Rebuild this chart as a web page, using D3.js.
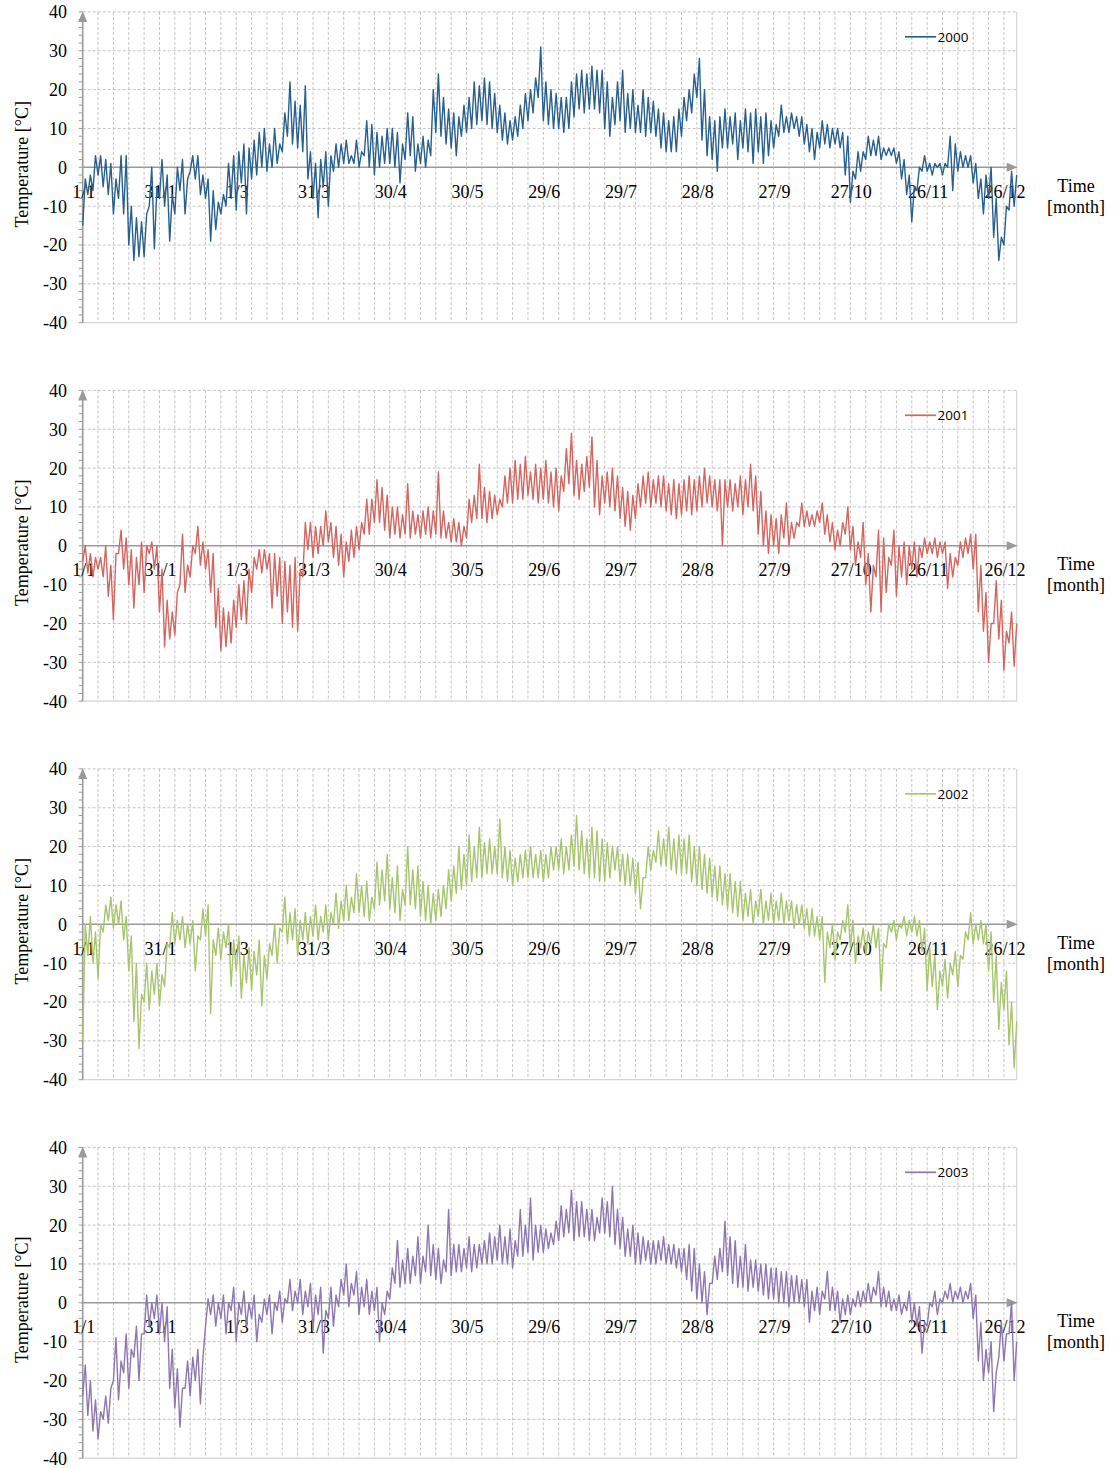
<!DOCTYPE html>
<html>
<head>
<meta charset="utf-8">
<script src="https://cdnjs.cloudflare.com/ajax/libs/d3/7.8.5/d3.min.js"></script>
<style>
  body { margin: 0; background: #fff; }
</style>
</head>
<body>
<div id="chart"></div>
<script>
// values: for every 2-day window (day 0-2, 2-4, ... 364-365)
// the low and the high of the temperature trace
const years = ['2000', '2001', '2002', '2003'];
const lineColors = ['#27608f', '#d4655f', '#a8c56d', '#8e76b1'];
const tickDays = [0, 30, 60, 90, 120, 150, 180, 210, 240, 270, 300, 330, 360];
const tickLabels = ['1/1', '31/1', '1/3', '31/3', '30/4', '30/5', '29/6', '29/7', '28/8', '27/9', '27/10', '26/11', '26/12'];
const yTicks = [40, 30, 20, 10, 0, -10, -20, -30, -40];

const hi2000 = [
  -3, -2, 3, 3, 2, 1, -3, 3, 3, -10, -13, -14, -12, 0, -5, 2,
  -2, -7, 0, 2, -3, 3, 3, -2, -3, -6, -9, -7, 1, 3, 4, 6,
  5, 7, 9, 10, 6, 10, 6, 14, 22, 17, 16, 21, 4, 1, 2, 4,
  3, 6, 6, 7, 3, 7, 4, 12, 11, 9, 8, 10, 10, 9, 6, 14,
  13, 6, 8, 7, 20, 24, 18, 15, 14, 13, 16, 18, 22, 21, 23, 22,
  19, 16, 14, 12, 13, 16, 19, 20, 23, 31, 22, 20, 19, 18, 18, 22,
  24, 25, 24, 26, 25, 25, 22, 18, 22, 25, 19, 20, 16, 20, 18, 17,
  15, 14, 12, 13, 15, 18, 20, 24, 28, 20, 13, 12, 13, 15, 13, 14,
  12, 15, 14, 15, 13, 14, 12, 11, 16, 13, 14, 13, 13, 11, 10, 9,
  12, 11, 10, 10, 9, 8, -1, 4, 4, 8, 7, 8, 5, 5, 5, 4,
  2, -2, -5, 0, 3, 1, 1, 1, 1, 8, 6, 4, 3, 3, 1, -3,
  -2, 0, -8, -18, -10, -1, -2
];
const lo2000 = [
  -15, -7, -6, -2, -5, -7, -12, -8, -12, -20, -24, -23, -23, -10, -21, -8,
  -10, -19, -12, -6, -12, -1, -3, -7, -8, -19, -16, -12, -10, -8, -11, -4,
  -12, -3, -2, 0, -1, 0, 1, 4, 8, 6, 5, 4, -3, -8, -13, -5,
  -10, -1, 0, 1, 1, 1, 0, 3, 0, -2, 0, 1, 1, 0, -4, 2,
  3, -1, 1, 0, 3, 9, 8, 6, 5, 3, 8, 9, 10, 11, 12, 11,
  10, 9, 7, 6, 7, 8, 10, 12, 14, 18, 12, 11, 10, 10, 9, 10,
  13, 15, 14, 15, 15, 14, 10, 8, 11, 12, 9, 10, 9, 9, 8, 9,
  8, 5, 4, 4, 4, 8, 12, 14, 18, 7, 3, 2, -1, 5, 5, 6,
  2, 5, 4, 1, 4, 1, 3, 5, 8, 9, 9, 10, 8, 6, 4, 2,
  5, 6, 5, 6, 5, -2, -9, -3, -1, 2, 3, 3, 2, 3, 3, 1,
  -3, -7, -14, -6, -1, -1, -2, 0, -2, 0, -6, -1, 0, 0, -4, -8,
  -12, -8, -18, -24, -20, -11, -10
];

const hi2001 = [
  0, -2, -3, -3, 0, -5, -2, 4, 2, -1, -3, 1, 0, 1, 0, -6,
  -14, -17, -12, 3, -5, 0, 5, 1, -1, -2, -11, -16, -17, -14, -10, -9,
  -6, -3, -1, -1, -2, -2, -3, -4, -5, -3, -6, 6, 6, 5, 5, 9,
  6, 5, 3, 1, 4, 5, 6, 12, 12, 17, 15, 13, 10, 10, 8, 16,
  9, 8, 9, 10, 9, 19, 9, 6, 7, 6, 5, 12, 13, 21, 15, 14,
  13, 12, 18, 20, 22, 21, 23, 19, 21, 20, 22, 19, 20, 18, 25, 29,
  22, 21, 23, 28, 22, 18, 19, 20, 18, 15, 14, 13, 16, 18, 19, 17,
  18, 18, 16, 17, 16, 17, 18, 17, 18, 20, 18, 17, 17, 17, 17, 16,
  18, 17, 21, 18, 14, 9, 8, 7, 8, 11, 6, 6, 11, 9, 8, 9,
  11, 8, 6, 4, 6, 10, 5, 1, 6, -2, -5, 4, 2, -3, 4, 0,
  1, 0, 1, 0, 2, 1, 2, 1, 1, -2, -3, 1, 2, 3, 3, -5,
  -12, -20, -9, -14, -22, -17, -20
];
const lo2001 = [
  -4, -7, -8, -6, -8, -13, -19, -2, -6, -10, -16, -10, -12, -2, -6, -17,
  -26, -24, -23, -10, -12, -8, -2, -5, -6, -12, -21, -27, -26, -25, -21, -19,
  -20, -12, -6, -7, -6, -16, -13, -20, -17, -21, -22, -8, -1, -3, -2, 0,
  1, -3, -5, -8, -4, -3, -1, 3, 3, 6, 6, 4, 2, 3, 2, 3,
  2, 3, 2, 3, 2, 3, 2, 2, 1, 1, 0, 2, 6, 7, 7, 6,
  7, 8, 10, 11, 11, 12, 12, 13, 12, 11, 12, 11, 10, 9, 14, 16,
  13, 12, 14, 15, 10, 8, 11, 10, 9, 7, 5, 4, 7, 10, 11, 10,
  11, 10, 9, 8, 7, 8, 9, 8, 9, 10, 11, 10, 9, 0, 10, 9,
  10, 8, 10, 9, 3, 0, -2, 0, -2, 2, 0, 2, 5, 5, 5, 5,
  6, 3, 1, -1, 0, 3, -1, -5, -3, -10, -17, -8, -17, -12, -5, -13,
  -8, -10, -6, -8, -3, -2, -2, -3, -2, -11, -8, -5, -3, -2, -6, -17,
  -22, -30, -20, -24, -32, -25, -31
];

const hi2002 = [
  0, 2, -2, 0, 5, 7, 5, 6, 2, -3, -10, -18, -10, -12, -10, -13,
  -5, 3, 1, 2, 0, 1, -3, 4, 5, -4, -1, -2, 0, -4, -3, -8,
  -6, -7, -4, -8, -5, 0, -1, 7, 3, 4, 1, 3, 2, 5, 2, 5,
  3, 8, 6, 10, 7, 13, 10, 11, 7, 16, 14, 18, 12, 15, 9, 20,
  14, 15, 11, 10, 8, 9, 10, 14, 15, 20, 18, 23, 20, 25, 21, 22,
  20, 27, 20, 19, 17, 18, 19, 20, 18, 19, 18, 20, 20, 22, 20, 23,
  28, 24, 22, 25, 24, 22, 21, 20, 20, 18, 18, 17, 16, 12, 20, 19,
  24, 22, 25, 22, 23, 22, 23, 20, 20, 18, 17, 15, 15, 13, 13, 11,
  11, 8, 9, 6, 9, 6, 8, 6, 8, 6, 6, 5, 5, 4, 4, 2,
  2, -2, 0, -2, 1, 5, 1, -3, -1, -2, 0, -1, -5, 0, 1, 0,
  2, 1, 2, 1, -1, -6, -8, -12, -9, -10, -7, -8, -2, 3, 0, 1,
  0, -2, -8, -15, -12, -20, -25
];
const lo2002 = [
  -30, -8, -10, -14, -2, 1, -1, 0, -4, -12, -25, -32, -20, -22, -18, -21,
  -16, -6, -5, -4, -6, -5, -12, -4, -3, -23, -8, -9, -6, -16, -12, -19,
  -15, -17, -13, -21, -14, -8, -10, -2, -5, -4, -8, -4, -5, -3, -4, -2,
  -4, 0, -1, 1, 1, 3, 3, 2, 1, 4, 5, 6, 4, 3, 1, 5,
  5, 4, 2, 1, 0, 1, 2, 4, 6, 8, 9, 10, 11, 12, 12, 13,
  13, 13, 12, 11, 10, 11, 12, 12, 12, 12, 11, 12, 14, 14, 13, 14,
  15, 14, 13, 12, 12, 11, 11, 12, 14, 11, 10, 10, 8, 4, 12, 14,
  16, 15, 15, 14, 13, 13, 13, 11, 10, 9, 8, 7, 6, 5, 4, 3,
  2, 1, 2, 0, 2, 0, 1, 0, 1, 0, 1, -1, 0, -1, -3, -3,
  -4, -15, -6, -9, -4, -2, -6, -10, -6, -8, -5, -6, -17, -6, -2, -4,
  -1, -3, -2, -3, -7, -17, -16, -22, -16, -19, -13, -16, -9, -4, -5, -4,
  -5, -12, -20, -27, -22, -31, -37
];

const hi2003 = [
  -16, -20, -25, -28, -24, -22, -9, -15, -8, -12, -6, -8, 2, 0, 2, 0,
  -1, -12, -17, -22, -15, -14, -12, -14, 1, 2, 0, 2, 0, 4, 0, 3,
  0, 2, -3, 1, 2, 0, 3, 1, 6, 3, 6, 3, 5, 2, 4, -2,
  4, 2, 6, 10, 5, 8, 4, 6, 3, 4, 0, 3, 9, 16, 11, 14,
  12, 17, 12, 20, 15, 14, 11, 24, 15, 15, 14, 17, 15, 15, 16, 18,
  17, 20, 17, 19, 16, 24, 20, 27, 20, 20, 19, 18, 21, 25, 24, 29,
  26, 26, 24, 24, 22, 27, 26, 30, 24, 22, 19, 20, 18, 17, 16, 16,
  16, 17, 15, 15, 14, 14, 15, 14, 10, 8, 5, 12, 14, 21, 17, 16,
  12, 15, 11, 11, 10, 10, 9, 9, 8, 8, 7, 7, 6, 6, 3, 4,
  3, 8, 4, 3, 1, 2, 1, 3, 3, 5, 4, 8, 4, 3, 1, 2,
  0, 3, 0, -1, -5, 0, 3, 1, 3, 5, 3, 4, 3, 5, 2, -5,
  -12, -10, -18, -5, -8, 0, -10
];
const lo2003 = [
  -24, -29, -33, -35, -30, -31, -20, -25, -18, -22, -14, -20, -8, -6, -4, -8,
  -10, -22, -27, -32, -22, -24, -20, -26, -6, -3, -6, -4, -8, -2, -10, -3,
  -6, -4, -10, -5, -3, -8, -2, -5, 0, -2, 0, -3, -1, -7, -3, -13,
  -4, -6, -1, 2, -1, 2, -3, -1, -3, -2, -10, -3, 1, 5, 4, 5,
  5, 7, 5, 8, 7, 6, 5, 8, 7, 8, 8, 9, 8, 9, 10, 10,
  10, 11, 10, 10, 9, 12, 12, 13, 11, 13, 13, 14, 15, 16, 17, 18,
  16, 17, 17, 16, 16, 18, 18, 17, 15, 14, 12, 12, 10, 10, 11, 10,
  10, 11, 10, 10, 9, 8, 6, 3, 1, 0, -3, 5, 6, 8, 7, 5,
  4, 4, 3, 4, 3, 2, 1, 1, 0, 0, -1, 0, 0, -1, -5, -2,
  -3, 1, -2, -2, -5, -3, -3, -1, -1, 0, 0, 2, -1, -1, -2, -2,
  -3, -2, -5, -6, -13, -6, -1, -3, 0, 1, 0, 1, 0, 1, -4, -15,
  -20, -18, -28, -14, -15, -8, -20
];

const lows = [lo2000, lo2001, lo2002, lo2003];
const highs = [hi2000, hi2001, hi2002, hi2003];
const windowDays = 2;

const width = 1118, height = 1468;
const panelGap = 378.5;
const gridColor = '#c4c4c4';
const axisColor = '#9a9a9a';
const serif = '"Liberation Serif", "Times New Roman", serif';

const svg = d3.select('#chart').append('svg')
    .attr('width', width)
    .attr('height', height)

const x = d3.scaleLinear().domain([0, 365]).range([82.7, 1016.7]);

// low then high inside each window, so the trace keeps its day-night wiggle
function tracePoints(lo, hi) {
  const pts = [];
  const n = Math.min(lo.length, hi.length);
  for (let k = 0; k < n; k++) {
    pts.push([k * windowDays, lo[k]]);
    pts.push([Math.min(k * windowDays + 1, 365), hi[k]]);
  }
  return pts;
}

years.forEach((yr, i) => {
  const zeroY = 167.3 + i * panelGap;
  const y = d3.scaleLinear().domain([-40, 40]).range([zeroY + 155.4, zeroY - 155.4]);
  const g = svg.append('g');

  // vertical dashed grid, one line every 6 days
  g.selectAll('.vgrid')
    .data(d3.range(6, 361, 6))
    .enter().append('line')
    .attr('x1', d => x(d)).attr('x2', d => x(d))
    .attr('y1', y(40)).attr('y2', y(-40))
    .attr('stroke', gridColor)
    .attr('stroke-dasharray', '3,2')

  // horizontal dashed grid
  g.selectAll('.hgrid')
    .data(yTicks.filter(d => d !== 0 && d !== -40))
    .enter().append('line')
    .attr('x1', x(0)).attr('x2', x(365))
    .attr('y1', d => y(d)).attr('y2', d => y(d))
    .attr('stroke', gridColor)
    .attr('stroke-dasharray', '3,2')

  // plot border (right + bottom)
  g.append('path')
    .attr('d', `M${x(0)},${y(-40)}H${x(365)}V${y(40)}`)
    .attr('fill', 'none')
    .attr('stroke', '#d4d4d4')
    .attr('stroke-width', 1.2)

  // minor ticks on the y axis, every 2 degrees
  g.selectAll('.ytick')
    .data(d3.range(-40, 41, 2))
    .enter().append('line')
    .attr('x1', x(0) - 4).attr('x2', x(0))
    .attr('y1', d => y(d)).attr('y2', d => y(d))
    .attr('stroke', axisColor)

  // zero axis with arrow
  g.append('line')
    .attr('x1', x(0)).attr('x2', x(365) - 6)
    .attr('y1', y(0)).attr('y2', y(0))
    .attr('stroke', axisColor)
    .attr('stroke-width', 1.6)
  g.append('path')
    .attr('d', `M${x(365) + 1},${y(0)}L${x(365) - 10},${y(0) - 4.5}L${x(365) - 10},${y(0) + 4.5}Z`)
    .attr('fill', axisColor)

  // y axis with arrow
  g.append('line')
    .attr('x1', x(0)).attr('x2', x(0))
    .attr('y1', y(-40)).attr('y2', y(40) + 6)
    .attr('stroke', axisColor)
    .attr('stroke-width', 1.6)
  g.append('path')
    .attr('d', `M${x(0)},${y(40) - 1}L${x(0) - 4.5},${y(40) + 10}L${x(0) + 4.5},${y(40) + 10}Z`)
    .attr('fill', axisColor)

  // y tick labels
  g.selectAll('.ylab')
    .data(yTicks)
    .enter().append('text')
    .attr('x', 67)
    .attr('y', d => y(d))
    .attr('dy', '0.36em')
    .attr('text-anchor', 'end')
    .attr('font-family', serif)
    .attr('font-size', 18)
    .text(d => d)

  // x tick labels (below the zero line)
  g.selectAll('.xlab')
    .data(tickDays)
    .enter().append('text')
    .attr('x', d => x(d) + 1)
    .attr('y', y(0) + 30.5)
    .attr('text-anchor', 'middle')
    .attr('font-family', serif)
    .attr('font-size', 18)
    .text((d, k) => tickLabels[k])

  g.append('text')
    .attr('transform', `translate(28,${zeroY - 3}) rotate(-90)`)
    .attr('text-anchor', 'middle')
    .attr('font-family', serif)
    .attr('font-size', 18)
    .text('Temperature [°C]')

  g.append('text')
    .attr('x', 1076).attr('y', zeroY + 24.5)
    .attr('text-anchor', 'middle')
    .attr('font-family', serif)
    .attr('font-size', 18)
    .text('Time')
  g.append('text')
    .attr('x', 1076).attr('y', zeroY + 45.5)
    .attr('text-anchor', 'middle')
    .attr('font-family', serif)
    .attr('font-size', 18)
    .text('[month]')

  // the temperature trace
  const line = d3.line()
    .x(d => x(d[0]))
    .y(d => y(d[1]))
  g.append('path')
    .datum(tracePoints(lows[i], highs[i]))
    .attr('d', line)
    .attr('fill', 'none')
    .attr('stroke', lineColors[i])
    .attr('stroke-width', 1.4)
    .attr('stroke-linejoin', 'round')

  // legend
  g.append('line')
    .attr('x1', 905).attr('x2', 936)
    .attr('y1', zeroY - 130.5).attr('y2', zeroY - 130.5)
    .attr('stroke', lineColors[i])
    .attr('stroke-width', 1.7)
  g.append('text')
    .attr('x', 937.5).attr('y', zeroY - 125.5)
    .attr('font-family', '"Open Sans", sans-serif')
    .attr('font-size', 13.5)
    .text(yr)
});
</script>
</body>
</html>
